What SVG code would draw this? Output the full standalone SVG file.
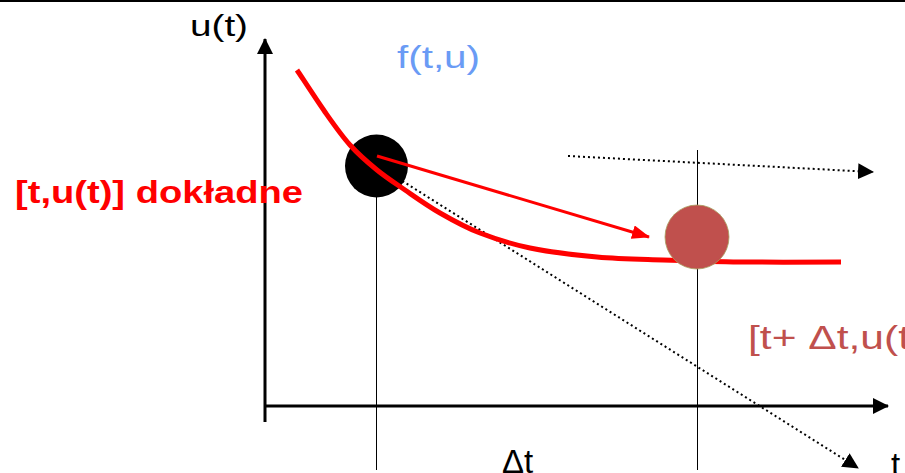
<svg xmlns="http://www.w3.org/2000/svg" width="905" height="473" viewBox="0 0 905 473">
<style>
text{font-family:"Liberation Sans","DejaVu Sans",sans-serif}
.axis{stroke:#000;stroke-width:3;fill:none}
.guide{stroke:#000;stroke-width:1;fill:none}
.dot{stroke:#000;stroke-width:2;stroke-dasharray:2 3;fill:none}
</style>
<defs>
<marker id="ax" markerWidth="16" markerHeight="16" refX="15" refY="8" orient="auto" markerUnits="userSpaceOnUse" viewBox="0 0 16 16"><path d="M0,0 L16,8 L0,16 Z" fill="#000"/></marker>
<marker id="ar" markerWidth="18" markerHeight="14" refX="17" refY="7" orient="auto" markerUnits="userSpaceOnUse" viewBox="0 0 18 14"><path d="M0,0 L18,7 L0,14 Z" fill="#f00"/></marker>
</defs>
<rect width="905" height="473" fill="#fff"/>
<line x1="0" y1="1" x2="905" y2="1" stroke="#000" stroke-width="2"/>
<g id="connectors">
<line class="axis" x1="265" y1="422" x2="265" y2="39" marker-end="url(#ax)"/>
<line class="axis" x1="264" y1="406" x2="888" y2="406" marker-end="url(#ax)"/>
<line class="guide" x1="376.5" y1="180" x2="376.5" y2="470"/>
<line class="guide" x1="697.5" y1="150" x2="697.5" y2="470"/>
<line class="dot" x1="377" y1="165" x2="858" y2="468" marker-end="url(#ax)"/>
<line class="dot" x1="568" y1="156" x2="873" y2="172" marker-end="url(#ax)"/>
</g>
<g id="node-exact"><circle cx="376.5" cy="166" r="31.5" fill="#000"/></g>
<g id="curve"><path d="M297,70 C301.7,77 316.2,99.5 325,112 C333.8,124.5 341.3,135.3 350,145 C358.7,154.7 367.8,162.5 377,170 C386.2,177.5 394.5,182.8 405,190 C415.5,197.2 427.5,205.8 440,213 C452.5,220.2 465,227.2 480,233 C495,238.8 510.5,244 530,248 C549.5,252 574.8,255 597,257 C619.2,259 639.2,259.2 663,260 C686.8,260.8 710.3,261.7 740,262 C769.7,262.3 824.2,262 841,262" fill="none" stroke="#f00" stroke-width="5"/></g>
<g id="step"><line x1="377" y1="156" x2="649" y2="237" stroke="#f00" stroke-width="3" marker-end="url(#ar)"/></g>
<g id="node-next"><circle cx="697" cy="237" r="32" fill="#C0504D" stroke="#a8a060" stroke-width="0.8"/></g>
<text x="190" y="36" font-size="29" textLength="58" lengthAdjust="spacingAndGlyphs">u(t)</text>
<text x="397" y="68" font-size="31" fill="#6A9BF5" textLength="83" lengthAdjust="spacingAndGlyphs">f(t,u)</text>
<text x="15" y="203" font-size="31" font-weight="bold" fill="#f00" textLength="288" lengthAdjust="spacingAndGlyphs">[t,u(t)] dokładne</text>
<text x="748" y="349" font-size="34" fill="#C0504D" textLength="162" lengthAdjust="spacingAndGlyphs">[t+ Δt,u(t</text>
<text x="502" y="473" font-size="33">Δt</text>
<text x="891" y="476" font-size="33">t</text>
</svg>
